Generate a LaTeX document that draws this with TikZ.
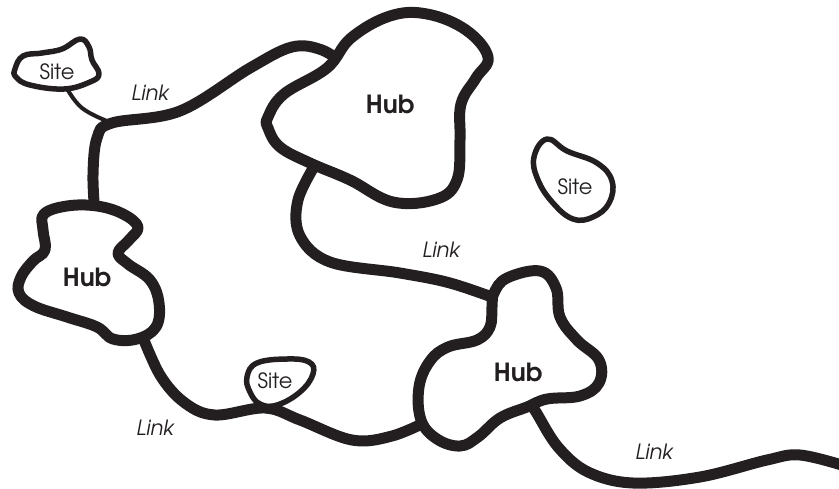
\documentclass[tikz,border=0pt]{standalone}
\usepackage{fontspec}
\setmainfont{texgyreadventor}[Extension=.otf, UprightFont=*-regular, BoldFont=*-bold, ItalicFont=*-italic, BoldItalicFont=*-bolditalic]
\definecolor{ink}{HTML}{231F20}
\tikzset{
  hubshape/.style={draw=ink, line width=11pt, fill=white, line join=round},
  siteshape/.style={draw=ink, line width=5.5pt, fill=white, line join=round},
  linkline/.style={draw=ink, line width=11pt, line cap=butt},
  thinlink/.style={draw=ink, line width=4pt},
  hublabel/.style={font=\fontsize{25}{27}\selectfont\bfseries, text=ink},
  sitelabel/.style={font=\fontsize{21}{23}\selectfont, text=ink},
  linklabel/.style={font=\fontsize{21}{23}\selectfont\itshape, text=ink}
}
\begin{document}
\begin{tikzpicture}[x=1pt,y=-1pt]
\useasboundingbox (0,0) rectangle (839,488);
% link coordinates
\coordinate (j1) at (112,123);
\coordinate (lend) at (845,466);
% links (drawn first, under the shapes)
\draw[linkline] plot[smooth, tension=0.6] coordinates {(95,215) (93,175) (97,138) (112,123) (180,111) (250,68) (292,47) (322,50) (345,65)};
\draw[thinlink] plot[smooth, tension=0.7] coordinates {(65,85) (82,108) (112,123)};
\draw[linkline] plot[smooth, tension=0.6] coordinates {(318,160) (298,200) (300,236) (330,262) (400,273) (450,283) (500,300)};
\draw[linkline] plot[smooth, tension=0.6] coordinates {(140,330) (160,375) (185,403) (215,415) (265,408) (300,420) (352,440) (392,436) (430,420)};
\draw[linkline] plot[smooth, tension=0.6] coordinates {(528,400) (536,412) (558,447) (588,472) (633,483) (700,477) (767,460) (800,455) (lend)};
% top-left site
\draw[siteshape] plot[smooth cycle, tension=0.7] coordinates {(15,69) (23,56) (42,53) (62,49) (80,39) (89,47) (92,60) (99,74) (90,82) (64,89) (30,85) (16,77)};
\node[sitelabel] (site1) at (57,72) {Site};
% right site
\draw[siteshape] plot[smooth cycle, tension=0.7] coordinates {(547,139) (567,151) (597,163) (612,181) (609,203) (593,217) (573,219) (553,203) (538,180) (534,157)};
\node[sitelabel] (site2) at (575,187) {Site};
% bottom site
\draw[siteshape] plot[smooth cycle, tension=0.7] coordinates {(247,377) (257,363) (287,359) (309,362) (313,374) (300,392) (277,405) (260,404) (250,392)};
\node[sitelabel] (site3) at (275,381) {Site};
% top hub
\draw[hubshape] plot[smooth cycle, tension=0.65] coordinates {(268,117) (284,94) (327,68) (351,38) (390,16) (427,14) (466,30) (488,57) (476,78) (461,104) (460,140) (457,180) (437,199) (393,202) (350,180) (310,163) (280,147) (268,128)};
\node[hublabel] (hub1) at (390,104) {Hub};
% left hub
\draw[hubshape] plot[smooth cycle, tension=0.65] coordinates {(44,214) (67,206) (97,206) (123,214) (138,227) (129,240) (118,253) (128,264) (150,280) (159,303) (156,327) (137,339) (113,339) (97,327) (67,317) (34,306) (19,293) (21,277) (33,261) (45,250) (43,230)};
\node[hublabel] (hub2) at (87,277) {Hub};
% bottom-right hub
\draw[hubshape] plot[smooth cycle, tension=0.65] coordinates {(494,293) (507,278) (540,271) (556,288) (560,317) (577,340) (599,360) (599,383) (580,396) (547,399) (527,407) (500,418) (478,437) (460,446) (437,439) (421,420) (419,387) (430,361) (448,347) (477,340) (490,327) (492,307)};
\node[hublabel] (hub3) at (518,372) {Hub};
% link labels
\node[linklabel] (l1) at (150,93) {Link};
\node[linklabel] (l2) at (441,250) {Link};
\node[linklabel] (l3) at (155,428) {Link};
\node[linklabel] (l4) at (654,452) {Link};
\end{tikzpicture}
\end{document}
